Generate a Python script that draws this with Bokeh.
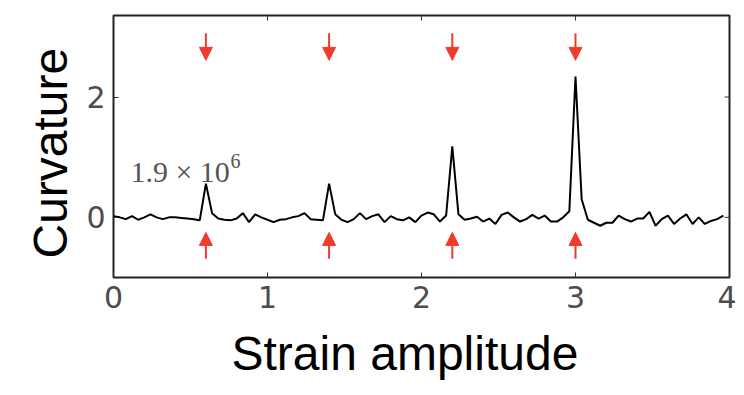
import numpy as np
from bokeh.plotting import figure
from bokeh.models import (Range1d, FixedTicker, Label, Arrow, Title,
                          NormalHead, ColumnDataSource)
from bokeh.embed import file_html
from bokeh.resources import INLINE

# ---- data ----
strain = np.round(np.arange(100) * 0.04, 2)
curvature = [
    0.02, 0.00, -0.03, 0.02, -0.04, 0.00, 0.05, 0.00, -0.03, 0.00,
    0.00, -0.01, -0.02, -0.03, -0.05, 0.56, 0.07, -0.02, -0.04, -0.05,
    -0.02, 0.07, -0.08, 0.05, 0.00, -0.04, -0.08, -0.04, -0.03, 0.00,
    0.02, 0.07, -0.03, -0.04, -0.05, 0.56, 0.05, -0.04, -0.08, -0.03,
    0.07, -0.03, 0.02, 0.05, -0.08, 0.02, -0.03, -0.05, 0.00, -0.08,
    0.03, 0.08, 0.05, -0.07, 0.03, 1.18, 0.05, -0.04, -0.02, 0.01,
    -0.07, -0.02, -0.11, 0.04, 0.08, 0.00, -0.07, -0.03, 0.04, -0.02,
    0.03, -0.07, -0.07, 0.00, 0.10, 2.34, 0.30, -0.04, -0.09, -0.14,
    -0.09, -0.09, 0.03, -0.03, -0.07, -0.02, -0.02, 0.09, -0.14, -0.03,
    0.03, -0.11, -0.02, 0.05, -0.11, 0.00, -0.11, -0.06, -0.03, 0.03,
]
arrow_x = [0.6, 1.4, 2.2, 3.0]
top_arrow_start = [3.06] * 4
top_arrow_end = [2.61] * 4
bottom_arrow_start = [-0.69] * 4
bottom_arrow_end = [-0.25] * 4
x_ticks = [0, 1, 2, 3, 4]
y_ticks = [0, 2]
x_limits = (0, 4)
y_limits = (-1, 3.355)
x_title = "Strain amplitude"
y_title = "Curvature"
note_text = "1.9 × 10"
note_exp = "6"
note_x = 0.11
note_y = 0.76

RED = "#ef3b2c"
TICK_GRAY = "#4d4d4d"
FRAME_W, FRAME_H = 616, 262
TICK_LEN_PX = 5

p = figure(width=736, height=395, output_backend="svg", toolbar_location=None,
           x_range=Range1d(*x_limits), y_range=Range1d(*y_limits),
           min_border_left=113, min_border_top=15, min_border_right=7,
           min_border_bottom=118)
p.background_fill_color = "white"
p.border_fill_color = "white"
p.grid.visible = False
p.outline_line_color = "#222222"
p.outline_line_width = 2

p.xaxis.ticker = FixedTicker(ticks=x_ticks)
p.yaxis.ticker = FixedTicker(ticks=y_ticks)

for ax in (p.xaxis[0], p.yaxis[0]):
    ax.axis_line_color = None
    ax.major_tick_in = TICK_LEN_PX
    ax.major_tick_out = 0
    ax.major_tick_line_color = "#333333"
    ax.minor_tick_line_color = None
    ax.major_label_text_font = "DejaVu Sans"
    ax.major_label_text_font_size = "30px"
    ax.major_label_text_color = TICK_GRAY
    ax.major_label_standoff = 8

# axis titles as Title objects so they can be offset like the original
p.add_layout(Title(text=x_title, align="left", offset=118, standoff=29,
                   text_font="Liberation Sans", text_font_size="48px",
                   text_font_style="normal", text_color="black"), "below")
p.add_layout(Title(text=y_title, align="left", offset=19, standoff=14,
                   text_font="Liberation Sans", text_font_size="48px",
                   text_font_style="normal", text_color="black"), "left")

# mirrored inward tick marks on the top and right edges
dy_tick = TICK_LEN_PX * (y_limits[1] - y_limits[0]) / FRAME_H
dx_tick = TICK_LEN_PX * (x_limits[1] - x_limits[0]) / FRAME_W
p.segment(x0=x_ticks, x1=x_ticks,
          y0=[y_limits[1]] * len(x_ticks), y1=[y_limits[1] - dy_tick] * len(x_ticks),
          line_color="#333333", line_width=1)
p.segment(x0=[x_limits[1]] * len(y_ticks), x1=[x_limits[1] - dx_tick] * len(y_ticks),
          y0=y_ticks, y1=y_ticks, line_color="#333333", line_width=1)

p.line(strain, curvature, line_color="black", line_width=2)

src_top = ColumnDataSource(dict(x=arrow_x, y0=top_arrow_start, y1=top_arrow_end))
src_bot = ColumnDataSource(dict(x=arrow_x, y0=bottom_arrow_start, y1=bottom_arrow_end))
for src in (src_top, src_bot):
    p.add_layout(Arrow(end=NormalHead(size=13, fill_color=RED, line_color=RED),
                       x_start="x", y_start="y0", x_end="x", y_end="y1",
                       line_color=RED, line_width=2, source=src))

p.add_layout(Label(x=note_x, y=note_y, text=note_text,
                   text_font="Liberation Serif", text_font_size="30px",
                   text_color="#555555", text_baseline="alphabetic"))
p.add_layout(Label(x=note_x, y=note_y, x_offset=100, y_offset=11, text=note_exp,
                   text_font="Liberation Serif", text_font_size="20px",
                   text_color="#555555", text_baseline="alphabetic"))

open("out.html", "w").write(file_html(p, INLINE))
